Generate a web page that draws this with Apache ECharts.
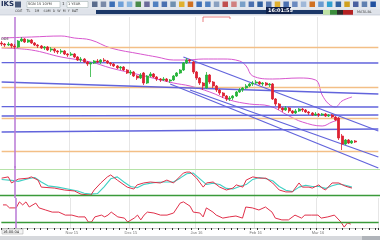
<!DOCTYPE html>
<html><head><meta charset="utf-8">
<script src="https://cdn.jsdelivr.net/npm/echarts/dist/echarts.min.js"></script>
<style>html,body{margin:0;padding:0;background:#fff;overflow:hidden}#c{width:380px;height:240px}</style>
</head><body><div id="c"></div>
<script>
// ---------- DATA ----------
const categoryCount = 115;
const monthLabels = {21:'Nov 15',39:'Dec 15',59:'Jan 16',77:'Feb 16',96:'Mar 16'};
const opens  = [157,156,155,156,154,153,159,161,158,160,157,155,154,152,153,150,151,149,148,149,146,145,146,143,140,141,138,136,137,139,138,140,139,137,136,134,132,133,130,127,128,124,122,127,117,124,126,123,121,120,121,119,120,124,127,130,137,140,138,128,122,117,112,125,118,114,110,107,104,101,102,104,108,110,112,114,116,117,118,116,117,115,116,101,96,92,90,92,89,87,89,91,90,88,87,85,86,85,86,84,85,83,82,64,56,60,57,59];
const closes = [156,155,156,154,153,159,161,158,160,157,155,154,152,153,150,151,149,148,149,146,145,146,143,140,141,138,136,137,139,138,140,139,137,136,134,132,133,130,127,128,124,122,125,117,124,126,123,121,120,121,119,120,124,127,130,137,140,139,128,122,117,114,125,118,114,110,107,104,101,102,104,108,110,112,114,116,117,118,116,117,115,116,101,96,92,90,92,89,87,89,91,90,88,87,85,86,85,86,84,85,83,80,62,56,60,57,59,58];
const lows   = [154,153,154,152,151,152,158,157,157,156,154,152,151,150,149,148,147,146,146,145,143,144,142,139,138,137,134,123,136,137,136,138,136,134,133,131,130,129,126,125,123,120,121,115,116,123,122,119,118,119,118,117,119,123,126,129,136,137,126,120,115,110,111,116,112,108,105,102,99,99,100,103,107,108,111,113,114,116,115,114,114,113,100,94,90,88,89,87,86,86,88,88,87,85,84,84,83,84,83,83,82,79,60,50,55,56,56,57];
const highs  = [159,157,158,157,156,160,163,162,161,161,158,156,155,154,154,153,152,150,151,150,147,148,147,144,143,142,139,138,140,141,141,142,140,138,137,135,134,134,131,130,129,125,127,128,125,128,127,124,122,123,122,121,125,128,131,138,142,141,139,129,123,118,128,126,119,115,111,108,105,104,105,109,112,113,116,117,119,120,119,118,118,117,117,102,97,93,94,93,90,91,92,92,91,89,88,88,87,87,87,86,86,84,83,66,61,61,60,60];
const upperBand = [[0,162],[9,163],[18,164],[22,162],[27,160],[33,152],[42,146],[47,143],[52,140],[56,140],[61,141],[67,141],[72,139],[74,134],[76,124],[82,121],[90,122],[95,120],[97,105],[99,96],[101,93],[103,99],[106,103]];
const lowerBand = [[0,152],[9,150],[18,143],[27,138],[33,132],[42,125],[52,117],[57,114],[63,108],[69,100],[75,96],[81,94],[87,84],[91,78],[97,74],[100,78],[102,80]];
const stochK = [[0,62],[2,66],[3,47],[5,59],[8,62],[9,66],[11,56],[12,34],[16,31],[19,25],[22,22],[24,12],[27,9],[28,25],[30,47],[32,66],[33,72],[35,56],[38,34],[40,28],[41,41],[43,47],[45,50],[48,47],[50,56],[52,47],[55,78],[56,81],[57,81],[59,62],[61,34],[62,47],[64,50],[66,34],[68,25],[70,31],[71,41],[73,34],[74,56],[76,66],[78,62],[80,62],[82,47],[84,25],[86,19],[88,19],[90,47],[91,34],[93,34],[94,31],[96,41],[97,31],[98,25],[100,47],[102,47],[104,37],[106,31]];
const stochD = [[0,58],[3,55],[5,52],[8,60],[10,64],[12,50],[14,38],[17,34],[20,28],[23,22],[25,15],[27,12],[29,14],[31,35],[33,60],[35,66],[37,50],[39,36],[41,32],[43,42],[46,48],[49,50],[52,50],[54,62],[56,76],[58,78],[60,60],[62,42],[64,46],[66,42],[68,30],[70,28],[72,36],[74,42],[76,58],[78,64],[80,60],[82,54],[84,36],[86,24],[88,20],[90,34],[92,40],[94,36],[96,36],[98,30],[100,38],[102,44],[104,40],[106,34]];
const rsi = [[0,77],[1,77],[2,67],[4,67],[5,87],[6,77],[7,87],[8,70],[10,83],[11,67],[13,60],[15,53],[17,53],[19,43],[21,43],[23,37],[25,37],[26,20],[27,20],[28,37],[30,43],[31,37],[32,43],[33,53],[35,37],[37,33],[38,20],[40,33],[41,43],[42,27],[43,43],[44,53],[46,50],[48,43],[50,43],[52,50],[54,83],[55,87],[57,73],[58,53],[60,50],[61,37],[62,67],[64,53],[65,43],[67,33],[69,37],[71,40],[73,33],[74,70],[76,67],[78,60],[80,70],[82,53],[83,33],[85,27],[87,27],[89,43],[91,33],[92,43],[94,43],[96,43],[97,33],[99,37],[101,43],[103,20],[104,3],[105,17],[106,13]];
const orangeLevels = [153,113,82,49];
const blueLines = [[[0,137.3],[114,137]],[[0,93.3],[114,93]],[[0,118],[114,106]],[[0,84],[114,85]],[[0,68],[114,71]]];
const trendLines = [[[55,143],[114,69]],[[57,110],[114,43]],[[51,116],[114,32]]];
const stochLevels = [10,90];
const rsiLevel = 20;
const cursorIndex = 4;

// ---------- CHART ----------
const categories = Array.from({length:categoryCount},(_,i)=>String(i));
const candles = opens.map((o,i)=>[o,closes[i],lows[i],highs[i]]);
const ORANGE='#f3bf86', BLUE='#6264dc', PINK='#d857cf', PURPLE='#b979d6';

function xAx(g, showLabels){
  return {type:'category',gridIndex:g,data:categories,boundaryGap:true,
    axisLine:{show:showLabels,lineStyle:{color:'#c8c8c8'}},
    axisTick:{show:showLabels,interval:1,length:2,inside:false,lineStyle:{color:'#333'}},
    axisLabel:{show:showLabels,interval:0,fontSize:4,color:'#777',margin:3,
      formatter:(v,i)=>monthLabels[i]||''},
    splitLine:{show:true,interval:(i)=>monthLabels[i]!==undefined,lineStyle:{color:'#e6e6e6',width:1}}};
}
function yAx(g,min,max){return {type:'value',gridIndex:g,min,max,show:false,splitLine:{show:false}};}

const mainMarks = [];
orangeLevels.forEach(v=>mainMarks.push([{coord:[0,v],lineStyle:{color:ORANGE,width:1.3,type:'solid'}},{coord:[114,v]}]));
blueLines.forEach(s=>mainMarks.push([{coord:s[0],lineStyle:{color:BLUE,width:1.3,type:'solid'}},{coord:s[1]}]));
trendLines.forEach(s=>mainMarks.push([{coord:s[0],lineStyle:{color:BLUE,width:1.3,type:'solid'}},{coord:s[1]}]));

const option = {
  animation:false,
  backgroundColor:'#ffffff',
  grid:[
    {left:0,right:0,top:17,height:151},
    {left:0,right:0,top:166,height:32},
    {left:0,right:0,top:198,height:30}
  ],
  xAxis:[xAx(0,false),xAx(1,false),xAx(2,true)],
  yAxis:[yAx(0,32,183),yAx(1,0,100),yAx(2,0,100)],
  series:[
    {type:'line',xAxisIndex:0,yAxisIndex:0,data:upperBand,smooth:0.4,showSymbol:false,lineStyle:{color:PINK,width:1},z:3,
      markLine:{symbol:'none',silent:true,label:{show:false},data:mainMarks}},
    {type:'line',xAxisIndex:0,yAxisIndex:0,data:lowerBand,smooth:0.4,showSymbol:false,lineStyle:{color:PINK,width:1},z:3,
      markLine:{symbol:'none',silent:true,label:{show:false},data:[{xAxis:cursorIndex,lineStyle:{color:PURPLE,width:1.5,type:'solid'}}]}},
    {type:'candlestick',xAxisIndex:0,yAxisIndex:0,data:candles,barWidth:2.5,z:5,
      itemStyle:{color:'#27b43a',color0:'#dd2233',borderColor:'#27b43a',borderColor0:'#dd2233',borderWidth:0.8}},
    {type:'line',xAxisIndex:1,yAxisIndex:1,data:stochD,showSymbol:false,lineStyle:{color:'#3fd0c4',width:1.1},z:3,
      markLine:{symbol:'none',silent:true,label:{show:false},data:[
        {yAxis:stochLevels[0],lineStyle:{color:'#3a9a3a',width:1.3,type:'solid'}},
        {yAxis:stochLevels[1],lineStyle:{color:'#b6e3a8',width:1,type:'solid'}},
        {xAxis:cursorIndex,lineStyle:{color:PURPLE,width:1.5,type:'solid'}}]}},
    {type:'line',xAxisIndex:1,yAxisIndex:1,data:stochK,showSymbol:false,lineStyle:{color:'#e0304a',width:1},z:4},
    {type:'line',xAxisIndex:2,yAxisIndex:2,data:rsi,showSymbol:false,lineStyle:{color:'#e0304a',width:1},z:4,
      markLine:{symbol:'none',silent:true,label:{show:false},data:[
        {yAxis:rsiLevel,lineStyle:{color:'#3a9a3a',width:1.3,type:'solid'}},
        {xAxis:cursorIndex,lineStyle:{color:PURPLE,width:1.5,type:'solid'}}]}}
  ],
  graphic:[]
};

// ---------- window chrome (toolbar, status) ----------
const G = option.graphic;
G.push({type:'rect',shape:{x:0,y:0,width:380,height:9},style:{fill:'#e3e7ed'},z:10});
G.push({type:'text',left:1,top:1,style:{text:'IKS',font:'bold 7px "DejaVu Sans"',fill:'#1b2b55'},z:11});
G.push({type:'rect',shape:{x:15,y:1.5,width:6,height:6},style:{fill:'#4a5a7a'},z:11});
G.push({type:'rect',shape:{x:27,y:1.5,width:33,height:6},style:{fill:'#fff',stroke:'#9aa',lineWidth:0.5},z:11});
G.push({type:'text',left:28,top:2.5,style:{text:'SGN 15 10YM',font:'3.5px "DejaVu Sans"',fill:'#333'},z:12});
G.push({type:'text',left:62,top:2,style:{text:'1',font:'4px "DejaVu Sans"',fill:'#333'},z:12});
G.push({type:'rect',shape:{x:67,y:1.5,width:21,height:6},style:{fill:'#fff',stroke:'#9aa',lineWidth:0.5},z:11});
G.push({type:'text',left:68,top:2.5,style:{text:'1 YEAR',font:'3.5px "DejaVu Sans"',fill:'#333'},z:12});
const iconColors=['#5a6c8c','#7a8aa8','#3d6fb6','#6fa0d8','#8ab6e0','#4a8a4a','#6a6a9a','#5080c0','#4a70b0','#7090b0','#e0b030','#d07020','#3d6fb6','#5080c0','#8aa0c0','#c05050','#d08080','#7aa0c8','#4a70b0','#3060a0','#5a7ab0','#e0b030','#4a70b0','#6a8ac0','#a0b8d8','#d07020','#6a9ad0','#30a0d0','#3060a0','#d0a020','#4a60a0','#6080b0','#2050a0'];
iconColors.forEach((c,k)=>{G.push({type:'rect',shape:{x:92+k*8.7,y:1.5,width:5.5,height:5.5},style:{fill:c},z:11});});
G.push({type:'rect',shape:{x:0,y:9,width:380,height:6},style:{fill:'#dfe3ea'},z:10});
G.push({type:'text',left:15,top:10,style:{text:'ODE    TL    1M    60M  D  W  M  Y  BAT',font:'3.3px "DejaVu Sans"',fill:'#444'},z:11});
G.push({type:'rect',shape:{x:96,y:10,width:227,height:4},style:{fill:'#1c3868'},z:11});
G.push({type:'rect',shape:{x:266,y:7,width:25,height:7},style:{fill:'#10214a'},z:12});
G.push({type:'text',left:268,top:8,style:{text:'16:01:55',font:'bold 5px "DejaVu Sans"',fill:'#fff'},z:13});
G.push({type:'rect',shape:{x:323,y:10,width:7,height:5},style:{fill:'#bfe3a5'},z:11});
G.push({type:'rect',shape:{x:330,y:10,width:7,height:5},style:{fill:'#3c8d3c'},z:11});
G.push({type:'rect',shape:{x:337,y:10,width:6,height:5},style:{fill:'#2a2a2a'},z:11});
G.push({type:'rect',shape:{x:343,y:10,width:10,height:5},style:{fill:'#b52222'},z:11});
G.push({type:'text',left:357,top:10.5,style:{text:'MATA-BL',font:'3.5px "DejaVu Sans"',fill:'#444'},z:11});
G.push({type:'line',shape:{x1:0,y1:15,x2:380,y2:15},style:{stroke:'#b8c0cc',lineWidth:0.6},z:11});
G.push({type:'polyline',shape:{points:[[203,22],[203,17],[230,17],[230,19]]},style:{stroke:'#e04848',lineWidth:0.7,fill:null},z:11});
G.push({type:'text',left:1,top:37,style:{text:'ODE',font:'3.5px "DejaVu Sans"',fill:'#333'},z:11});
G.push({type:'rect',shape:{x:2,y:229,width:21,height:5},style:{fill:'#f4f4f4',stroke:'#888',lineWidth:0.4},z:11});
G.push({type:'text',left:3,top:229.8,style:{text:'16:00:04',font:'3.6px "DejaVu Sans"',fill:'#222'},z:12});
G.push({type:'rect',shape:{x:0,y:236,width:380,height:4},style:{fill:'#d6d8dc'},z:10});
G.push({type:'rect',shape:{x:362,y:236,width:18,height:4},style:{fill:'#b0b4ba'},z:11});

const chart = echarts.init(document.getElementById('c'),null,{renderer:'canvas',width:380,height:240});
chart.setOption(option);
</script></body></html>
